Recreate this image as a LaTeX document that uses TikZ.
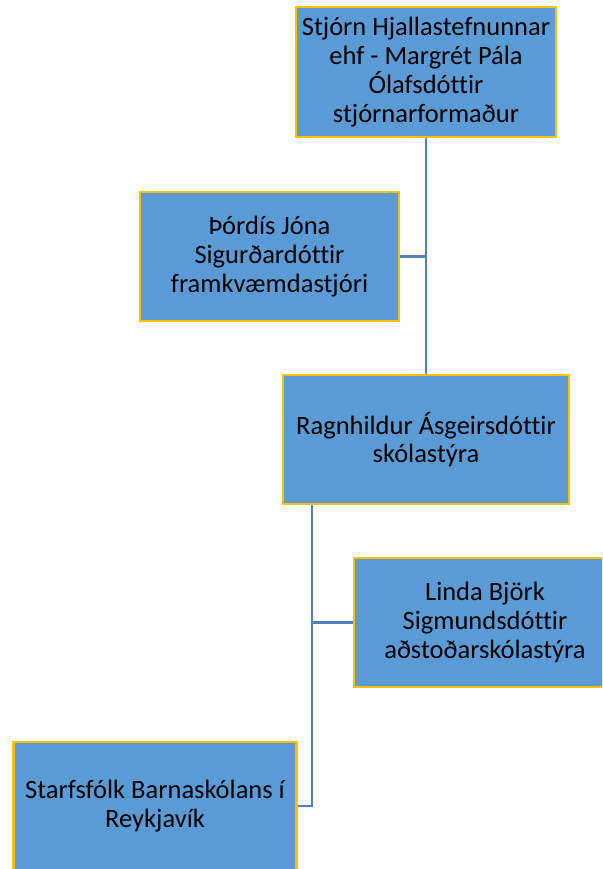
\documentclass[tikz,border=0pt]{standalone}
\usepackage{fontspec}
\setmainfont[Ligatures=NoCommon]{Carlito}
\definecolor{boxfill}{HTML}{5B9BD5}
\definecolor{boxedge}{HTML}{FFC000}
\definecolor{linkcol}{HTML}{4F81BD}
\begin{document}
\begin{tikzpicture}[x=1pt,y=-1pt,
  orgbox/.style={draw=boxedge,fill=boxfill,line width=2.5pt,inner sep=0pt,
    align=center,font=\fontsize{26.5}{28.8}\selectfont,minimum height=129pt},
  link/.style={draw=linkcol,line width=2.6pt}]
\useasboundingbox (0,0) rectangle (602,869);
\clip (0,0) rectangle (602,869);
\node[orgbox,minimum width=260pt,minimum height=130pt] (b1) at (426,72)
  {Stjórn Hjallastefnunnar\\ehf - Margrét Pála\\Ólafsdóttir\\stjórnarformaður};
\node[orgbox,minimum width=259pt] (b2) at (269.5,256.5)
  {Þórdís Jóna\\Sigurðardóttir\\framkvæmdastjóri};
\node[orgbox,minimum width=286pt] (b3) at (426,439.5)
  {Ragnhildur Ásgeirsdóttir\\skólastýra};
\node[orgbox,minimum width=262pt] (b4) at (485,622.5)
  {Linda Björk\\Sigmundsdóttir\\aðstoðarskólastýra};
\node[orgbox,minimum width=283pt,minimum height=128pt] (b5) at (155,806)
  {Starfsfólk Barnaskólans í\\Reykjavík};
\coordinate (spine) at (312,0);
\draw[link] (b1.south) -- (b3.north);
\draw[link] (b2.east) -- (b2.east -| b1.south);
\draw[link] (b3.south -| spine) -- (b5.east -| spine) -- (b5.east);
\draw[link] (b4.west -| spine) -- (b4.west);
\end{tikzpicture}
\end{document}
